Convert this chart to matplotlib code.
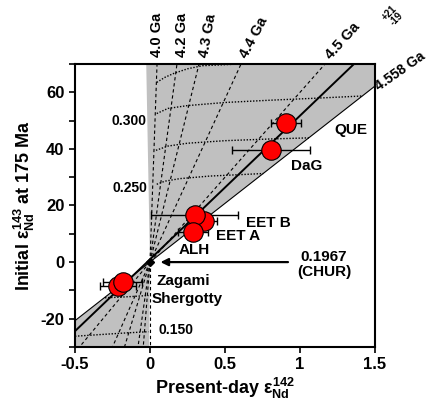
#!/usr/bin/env python3

'''
    Initial eps143 at 175 Ma vs present-day eps142 for shergottites,
    with isochrons and Sm/Nd contours.
'''

import matplotlib
matplotlib.use("Agg")
import matplotlib.pyplot as plt

plt.rcParams['font.family'] = 'Liberation Sans'
plt.rcParams['font.weight'] = 'bold'
plt.rcParams['axes.labelweight'] = 'bold'
plt.rcParams['axes.unicode_minus'] = False
plt.rcParams['mathtext.fontset'] = 'custom'
plt.rcParams['mathtext.rm'] = 'Liberation Sans:bold'
plt.rcParams['mathtext.it'] = 'Liberation Sans:bold'
plt.rcParams['mathtext.bf'] = 'Liberation Sans:bold'

# samples
names = ["EET A", "EET B", "ALH", "DaG", "QUE", "Shergotty", "Zagami"]
eps142 = [0.36, 0.30, 0.29, 0.81, 0.91, -0.215, -0.18]
eps143 = [14.6, 16.8, 10.7, 39.6, 49.0, -8.4, -7.2]
eps142_err = [0.09, 0.29, 0.10, 0.26, 0.10, 0.12, 0.13]

# isochrons through CHUR: x where they reach the top (y=70) and bottom (y=-30)
iso_ages = ["4.0 Ga", "4.2 Ga", "4.3 Ga", "4.4 Ga", "4.5 Ga"]
iso_x_top = [0.047, 0.18, 0.327, 0.607, 1.167]
iso_x_bot = [-0.045, -0.08, -0.17, -0.25, -0.47]

# 4.558 Ga boundary and fit line through the data
bound_x = [-0.5, 1.5]
bound_y = [-20.7, 62.2]
fit_x = [-0.5, 1.36]
fit_y = [-24.4, 70.0]

# Sm/Nd contours (dotted)
contours = [
    ([0.045, 0.10, 0.16, 0.25, 0.35, 0.6], [63.5, 65.3, 66.7, 68.3, 69.4, 70.0]),
    ([0.045, 0.12, 0.25, 0.5, 0.8, 1.1, 1.42], [52.5, 54.3, 55.3, 56.4, 57.2, 57.9, 58.7]),
    ([0.04, 0.12, 0.25, 0.5, 0.8, 1.06], [39.5, 41.0, 42.0, 42.9, 43.5, 43.9]),
    ([0.045, 0.10, 0.20, 0.40, 0.60, 0.755], [27.5, 28.6, 29.5, 30.4, 30.9, 31.3]),
    ([-0.30, -0.20, -0.10, -0.01], [-12.6, -12.4, -12.1, -11.8]),
    ([-0.5, -0.30, -0.15, -0.01], [-26.2, -25.5, -25.0, -24.6]),
]
contour_labels = ["0.300", "0.250", "0.150"]
contour_label_y = [50, 26.2, -23.9]

# shaded wedge
wedge_x = [-0.025, 1.5, 1.5, -0.5, -0.5, -0.005, 0.0]
wedge_y = [70, 70, 62.2, -20.7, -30, -30, 0]


def draw():
    fig = plt.figure(figsize=(4.27, 4.04), dpi=100)
    ax = fig.add_axes([0.1756, 0.1411, 0.7026, 0.7005])

    ax.fill(wedge_x, wedge_y, color='#c0c0c0', lw=0, zorder=0)

    for xt, xb in zip(iso_x_top, iso_x_bot):
        ax.plot([0, xt], [0, 70], color='black', lw=0.8, ls=(0, (3, 2.5)), zorder=1)
        ax.plot([0, xb], [0, -30], color='black', lw=0.8, ls=(0, (3, 2.5)), zorder=1)
    ax.plot([0, 0], [0, -30], color='black', lw=0.8, ls=(0, (3, 2.5)), zorder=1)

    for cx, cy in contours:
        ax.plot(cx, cy, color='black', lw=1.0, ls=(0, (1, 1.2)), zorder=1)

    ax.plot(bound_x, bound_y, color='black', lw=0.8, zorder=2)
    ax.plot(fit_x, fit_y, color='black', lw=1.4, zorder=2)

    ax.plot([0], [0], marker='D', color='black', ms=4, zorder=3)

    ax.errorbar(eps142, eps143, xerr=eps142_err, fmt='none', ecolor='black',
                elinewidth=1, capsize=3, capthick=1, zorder=4)
    ax.plot(eps142, eps143, 'o', ms=14, mfc='#ff0000', mec='black', mew=0.8,
            ls='none', zorder=5)

    ax.annotate("", xy=(0.07, 0), xytext=(0.92, 0),
                arrowprops=dict(arrowstyle='-|>', lw=1.6, color='black',
                                mutation_scale=11, shrinkA=0, shrinkB=0))

    # sample labels
    fs = 11
    ax.text(1.34, 46.6, "QUE", ha='center', va='center', fontsize=fs)
    ax.text(1.047, 33.8, "DaG", ha='center', va='center', fontsize=fs)
    ax.text(0.79, 13.8, "EET B", ha='center', va='center', fontsize=fs)
    ax.text(0.585, 9.1, "EET A", ha='center', va='center', fontsize=fs)
    ax.text(0.296, 4.4, "ALH", ha='center', va='center', fontsize=fs)
    ax.text(0.222, -6.8, "Zagami", ha='center', va='center', fontsize=fs)
    ax.text(0.25, -13.0, "Shergotty", ha='center', va='center', fontsize=fs)
    ax.text(1.16, -0.9, "0.1967\n(CHUR)", ha='center', va='center', fontsize=fs,
            linespacing=1.1)

    ax.text(-0.02, contour_label_y[0], contour_labels[0], ha='right', va='center', fontsize=10)
    ax.text(-0.02, contour_label_y[1], contour_labels[1], ha='right', va='center', fontsize=10)
    ax.text(0.173, contour_label_y[2], contour_labels[2], ha='center', va='center', fontsize=10)

    # isochron ages above the frame
    rots = [90, 90, 80, 62, 48]
    lab_x = [0.05, 0.213, 0.36, 0.62, 1.185]
    for lab, lx, r in zip(iso_ages, lab_x, rots):
        ax.text(lx, 72.5, lab, rotation=r, rotation_mode='anchor', ha='left',
                va='center', fontsize=10.5, clip_on=False)
    ax.text(1.51, 61.5, "4.558 Ga", rotation=35, rotation_mode='anchor', ha='left',
            va='center', fontsize=10, clip_on=False)
    ax.text(1.62, 87, "+21\n-19", rotation=45, rotation_mode='anchor', ha='center',
            va='center', fontsize=7, linespacing=0.9, clip_on=False)

    ax.set_xlim(-0.5, 1.5)
    ax.set_ylim(-30, 70)
    ax.set_xticks([-0.5, 0, 0.5, 1, 1.5])
    ax.set_xticklabels(["-0.5", "0", "0.5", "1", "1.5"])
    ax.set_yticks([-20, 0, 20, 40, 60])
    ax.set_yticklabels(["-20", "0", "20", "40", "60"])
    ax.set_yticks([-30, -10, 10, 30, 50, 70], minor=True)
    ax.tick_params(which='both', direction='out', length=4, width=1.2, labelsize=12)
    ax.tick_params(axis='x', pad=3)
    for s in ax.spines.values():
        s.set_linewidth(1.5)

    ax.set_xlabel(r"Present-day $\varepsilon_{Nd}^{142}$", fontsize=13,
                  fontweight='bold', labelpad=3)
    ax.set_ylabel(r"Initial $\varepsilon_{Nd}^{143}$ at 175 Ma", fontsize=13,
                  fontweight='bold', labelpad=3)

    fig.savefig("out.png", dpi=100)


if __name__ == "__main__":
    draw()
